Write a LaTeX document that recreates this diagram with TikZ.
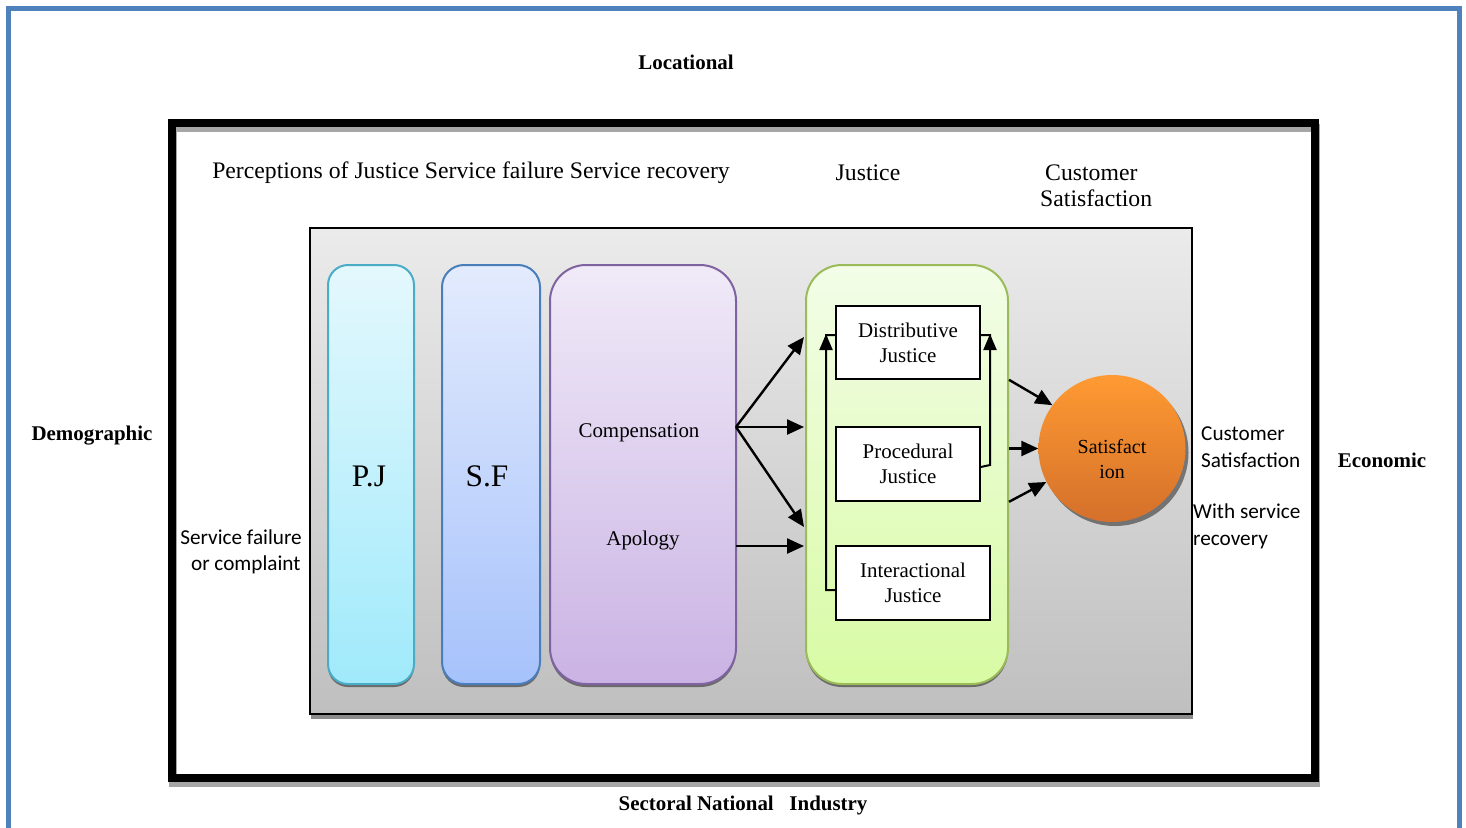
\documentclass[tikz,border=0pt]{standalone}
\usepackage{fontspec}
\setmainfont{Liberation Serif}
\newfontfamily\calibrifont{Carlito}
\usetikzlibrary{arrows.meta,shadows}

\definecolor{frameblue}{HTML}{4F81BD}
\definecolor{pjline}{HTML}{4BACC6}
\definecolor{pjtop}{HTML}{E4F8FD}
\definecolor{pjbot}{HTML}{A0EAFB}
\definecolor{sfline}{HTML}{4A7EBB}
\definecolor{sftop}{HTML}{E3EBFD}
\definecolor{sfbot}{HTML}{A6C2FB}
\definecolor{cpline}{HTML}{7F63A1}
\definecolor{cptop}{HTML}{F0EAF8}
\definecolor{cpbot}{HTML}{CAB3E4}
\definecolor{jline}{HTML}{9BBB59}
\definecolor{jtop}{HTML}{F3FDE8}
\definecolor{jbot}{HTML}{D8FBA4}
\definecolor{sattop}{HTML}{FF9A33}
\definecolor{satbot}{HTML}{D4702A}
\definecolor{paneltop}{HTML}{EBEBEB}
\definecolor{panelbot}{HTML}{BFBFBF}

\begin{document}
\begin{tikzpicture}[x=1bp,y=-1bp,
  boldlbl/.style={font=\fontsize{21}{25}\selectfont\bfseries, inner sep=0},
  headlbl/.style={font=\fontsize{23.8}{26}\selectfont, inner sep=0, align=center},
  txt/.style={font=\fontsize{21}{25}\selectfont, inner sep=0, align=center},
  big/.style={font=\fontsize{31.5}{34}\selectfont, inner sep=0},
  sans/.style={font=\calibrifont\fontsize{21.3}{26.5}\selectfont, inner sep=0},
  column/.style={line width=2bp, inner sep=0, minimum height=419bp,
    drop shadow={shadow xshift=0bp, shadow yshift=-3bp, opacity=0.45, fill=black}},
  jbox/.style={draw, line width=1.6bp, fill=white, inner sep=0, align=center,
    font=\fontsize{21}{25}\selectfont, minimum height=74bp},
  arr/.style={line width=2.4bp, -{Triangle[length=17bp,width=15bp]}},
  link/.style={line width=2bp},
  tip/.style={line width=2bp, -{Triangle[length=16bp,width=13bp]}}]

\useasboundingbox (0,0) rectangle (1466,827);

% page frame
\begin{scope}
  \clip (0,0) rectangle (1466,827);
  \draw[frameblue, line width=5bp] (8.5,8.5) rectangle (1459,832);
\end{scope}

% outer thick frame with its shadow
\draw[black!35, line width=8bp] (173,127.5) rectangle (1316,782.5);
\draw[black, line width=8bp] (172,123) rectangle (1315,778);

% grey panel
\node[draw, line width=1.6bp, top color=paneltop, bottom color=panelbot,
      minimum width=882bp, minimum height=486bp, inner sep=0,
      drop shadow={shadow xshift=1bp, shadow yshift=-5bp, opacity=0.45, fill=black}]
      (panel) at (751,471) {};

% columns
\node[column, draw=pjline, top color=pjtop, bottom color=pjbot,
      rounded corners=20bp, minimum width=86bp] (pj) at (371,474.5) {};
\node[big] (pjlbl) at (369,476) {P.J};

\node[column, draw=sfline, top color=sftop, bottom color=sfbot,
      rounded corners=22bp, minimum width=98bp] (sf) at (491,474.5) {};
\node[big] (sflbl) at (487,476) {S.F};

\node[column, draw=cpline, top color=cptop, bottom color=cpbot,
      rounded corners=36bp, minimum width=186bp] (comp) at (643,474.5) {};
\node[txt] (complbl) at (639,433) {Compensation};
\node[txt] (apollbl) at (643,540) {Apology};

\node[column, draw=jline, top color=jtop, bottom color=jbot,
      rounded corners=36bp, minimum width=202bp] (just) at (907,474.5) {};

% justice dimensions
\node[jbox, minimum width=144bp, minimum height=73bp] (dj) at (908,342.5) {Distributive\\Justice};
\node[jbox, minimum width=144bp] (pjus) at (908,464) {Procedural\\Justice};
\node[jbox, minimum width=154bp] (ij) at (913,583) {Interactional\\Justice};

% satisfaction
\node[circle, minimum size=147bp, inner sep=0, top color=sattop, bottom color=satbot,
      drop shadow={shadow xshift=3bp, shadow yshift=-4bp, opacity=0.45, fill=black}]
      (sat) at (1112,448.5) {};
\node[txt, font=\fontsize{20}{25}\selectfont] (satlbl) at (1112,459) {Satisfact\\ion};

% recovery actions to justice
\coordinate (fan1) at (736,427);
\coordinate (fan2) at (736,546);
\coordinate (t1) at (804,337);
\coordinate (t2) at (804,427);
\coordinate (t3) at (804,527);
\coordinate (t4) at (804,546);
\draw[arr] (fan1) -- (t1);
\draw[arr] (fan1) -- (t2);
\draw[arr] (fan1) -- (t3);
\draw[arr] (fan2) -- (t4);

% links between justice dimensions
\draw[link] ([yshift=-7bp]ij.west) -- (826,590) -- (826,335) -- ([yshift=7.5bp]dj.west);
\draw[tip] (826,362) -- (826,334);
\draw[link] ([yshift=-3bp]pjus.east) -- (990,465) -- (990,335) -- ([yshift=7.5bp]dj.east);
\draw[tip] (990,362) -- (990,334);

% justice to satisfaction
\draw[arr] (just.east |- dj.south) -- (sat.144);
\draw[arr] (just.east |- sat.west) -- (sat.180);
\draw[arr] (just.east |- pjus.south) -- (sat.207);

% headings
\node[headlbl] (hdr) at (471,173) {Perceptions of Justice Service failure Service recovery};
\node[headlbl] (hjust) at (868,173) {Justice};
\node[headlbl, align=left, anchor=west] (hcs) at (1040,186) {\hspace{5bp}Customer\\Satisfaction};

% side labels
\node[sans, align=left, anchor=west] (cs) at (1201,447) {Customer\\Satisfaction};
\node[sans, align=left, anchor=west] (wsr) at (1193,526.5) {With service\\recovery};
\node[sans, align=center] (sfc) at (241,552) {Service failure\\\ \ or complaint};

% environment labels
\node[boldlbl] (loc) at (686,62) {Locational};
\node[boldlbl] (demo) at (92,436) {Demographic};
\node[boldlbl] (eco) at (1382,460) {Economic};
\node[boldlbl] (sect) at (743,805) {Sectoral National\ \ \ Industry};

\end{tikzpicture}
\end{document}
